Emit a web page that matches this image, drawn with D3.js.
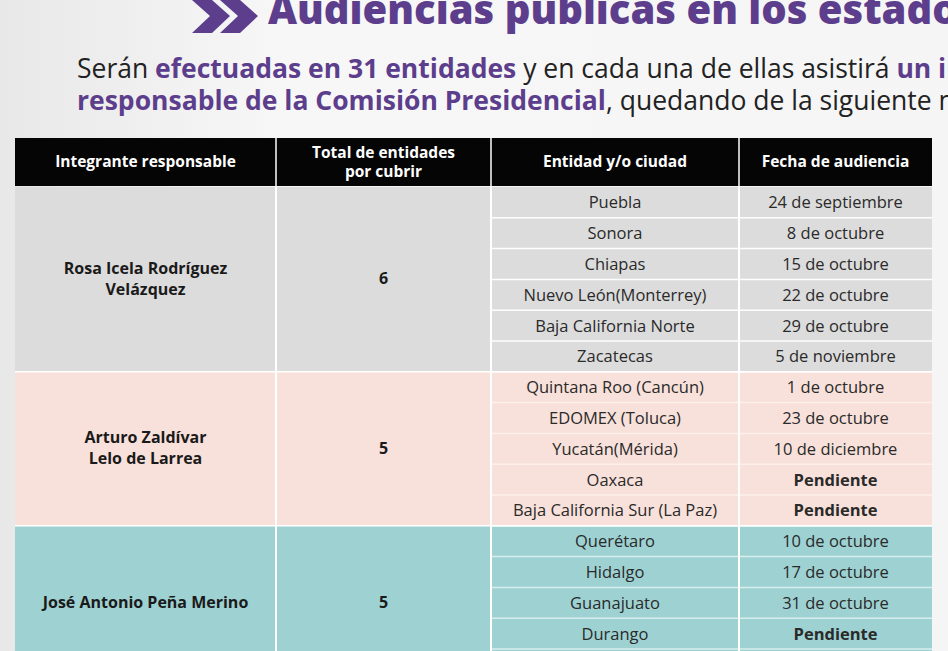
<!DOCTYPE html>
<html><head><meta charset="utf-8">
<script src="https://cdn.jsdelivr.net/npm/d3@7"></script>
<style>body{margin:0;background:#f3f3f3;font-family:"Open Sans",sans-serif;overflow:hidden}</style>
</head><body><svg id="c" width="948" height="651"></svg>
<script>
const headers = ["Integrante responsable", "Total de entidades|por cubrir", "Entidad y/o ciudad", "Fecha de audiencia"]
const groups = [
  {name: "Rosa Icela Rodríguez|Velázquez", total: 6, fill: "#dcdcdc"},
  {name: "Arturo Zaldívar|Lelo de Larrea", total: 5, fill: "#f8e1da"},
  {name: "José Antonio Peña Merino", total: 5, fill: "#9ed2d2"}
]
const rows = [
  [0, "Puebla", "24 de septiembre"], [0, "Sonora", "8 de octubre"], [0, "Chiapas", "15 de octubre"],
  [0, "Nuevo León(Monterrey)", "22 de octubre"], [0, "Baja California Norte", "29 de octubre"], [0, "Zacatecas", "5 de noviembre"],
  [1, "Quintana Roo (Cancún)", "1 de octubre"], [1, "EDOMEX (Toluca)", "23 de octubre"], [1, "Yucatán(Mérida)", "10 de diciembre"],
  [1, "Oaxaca", "Pendiente"], [1, "Baja California Sur (La Paz)", "Pendiente"],
  [2, "Querétaro", "10 de octubre"], [2, "Hidalgo", "17 de octubre"], [2, "Guanajuato", "31 de octubre"], [2, "Durango", "Pendiente"],
  [2, "", ""]
]
const colEdges = [15, 276, 491, 739, 932]

const svg = d3.select("#c")
const bg = svg.append("defs").append("linearGradient").attr("id", "bg").attr("x1", 0).attr("x2", 1)
bg.append("stop").attr("offset", 0).attr("stop-color", "#e8e8e8")
bg.append("stop").attr("offset", 0.3).attr("stop-color", "#f7f7f7")
bg.append("stop").attr("offset", 1).attr("stop-color", "#f5f5f5")
svg.append("rect").attr("width", 948).attr("height", 651).attr("fill", "url(#bg)")

// title (cropped at top)
svg.append("path").attr("d", "M192,0 L212,0 L230,16 L212,33 L192,33 L210,16Z M220,0 L240,0 L258,16 L240,33 L220,33 L238,16Z").attr("fill", "#5d3e8c")
svg.append("text").attr("x", 268).attr("y", 24).attr("font-size", 40).attr("font-weight", 800)
  .attr("fill", "#5d3e8c").text("Audiencias públicas en los estados")

const sub = [
  [["Serán ", 0], ["efectuadas en 31 entidades", 1], [" y en cada una de ellas asistirá ", 0], ["un integrante", 1]],
  [["responsable de la Comisión Presidencial", 1], [", quedando de la siguiente manera:", 0]]
]
sub.forEach((line, i) => {
  const t = svg.append("text").attr("x", 77).attr("y", 78 + i * 32).attr("font-size", 26.5)
  line.forEach(([s, b]) => t.append("tspan").text(s).attr("font-weight", b ? 700 : 400).attr("fill", b ? "#5d3e8c" : "#222"))
})

const y = d3.scaleBand().domain(d3.range(rows.length)).range([187, 187 + rows.length * 30.8])
const x = i => colEdges[i]

// header
svg.append("rect").attr("x", 15).attr("y", 138).attr("width", 917).attr("height", 48).attr("fill", "#050505")
headers.forEach((h, i) => {
  const parts = h.split("|")
  const t = svg.append("text").attr("x", (x(i) + x(i + 1)) / 2).attr("text-anchor", "middle")
    .attr("font-size", 15.5).attr("font-weight", 700).attr("fill", "#fff")
  parts.forEach((p, k) => t.append("tspan").attr("x", (x(i) + x(i + 1)) / 2)
    .attr("y", 162 + 5 + (k - (parts.length - 1) / 2) * 19).text(p))
})
d3.range(1, 4).forEach(i => svg.append("line").attr("x1", x(i)).attr("x2", x(i)).attr("y1", 138).attr("y2", 186).attr("stroke", "#fff").attr("stroke-width", 1.5))

// group cells
groups.forEach((g, gi) => {
  const idx = rows.map((r, i) => r[0] === gi ? i : -1).filter(i => i >= 0)
  const y0 = y(idx[0]), y1 = y(idx[idx.length - 1]) + y.bandwidth()
  svg.append("rect").attr("x", 15).attr("y", y0).attr("width", 917).attr("height", y1 - y0).attr("fill", g.fill)
  const cy = (y0 + y1) / 2
  const parts = g.name.split("|")
  const t = svg.append("text").attr("text-anchor", "middle").attr("font-size", 16).attr("font-weight", 700).attr("fill", "#1a1a1a")
  parts.forEach((p, k) => t.append("tspan").attr("x", (x(0) + x(1)) / 2).attr("y", cy + 5 + (k - (parts.length - 1) / 2) * 21).text(p))
  svg.append("text").attr("x", (x(1) + x(2)) / 2).attr("y", cy + 5).attr("text-anchor", "middle")
    .attr("font-size", 16).attr("font-weight", 700).attr("fill", "#1a1a1a").text(g.total)
})

// row lines and cells
const lineCol = ["rgba(255,255,255,0.95)", "rgba(255,255,255,0.5)", "rgba(255,255,255,0.6)"]
rows.forEach((r, i) => {
  if (i > 0) svg.append("line").attr("x1", x(2)).attr("x2", x(4)).attr("y1", y(i)).attr("y2", y(i))
    .attr("stroke", rows[i - 1][0] !== r[0] ? "#fff" : lineCol[r[0]]).attr("stroke-width", 1.5)
  const cy = y(i) + y.bandwidth() / 2 + 6
  svg.append("text").attr("x", (x(2) + x(3)) / 2).attr("y", cy).attr("text-anchor", "middle")
    .attr("font-size", 16.5).attr("fill", "#2a2a2a").text(r[1])
  svg.append("text").attr("x", (x(3) + x(4)) / 2).attr("y", cy).attr("text-anchor", "middle")
    .attr("font-size", 16.5).attr("font-weight", r[2] === "Pendiente" ? 700 : 400).attr("fill", "#2a2a2a").text(r[2])
})
svg.append("line").attr("x1", x(0)).attr("x2", x(4)).attr("y1", y(6)).attr("y2", y(6)).attr("stroke", "#fff").attr("stroke-width", 1.5)
svg.append("line").attr("x1", x(0)).attr("x2", x(4)).attr("y1", y(11)).attr("y2", y(11)).attr("stroke", "#fff").attr("stroke-width", 1.5)
d3.range(1, 4).forEach(i => svg.append("line").attr("x1", x(i)).attr("x2", x(i)).attr("y1", 187).attr("y2", 651).attr("stroke", "#fff").attr("stroke-width", 2))
</script></body></html>
